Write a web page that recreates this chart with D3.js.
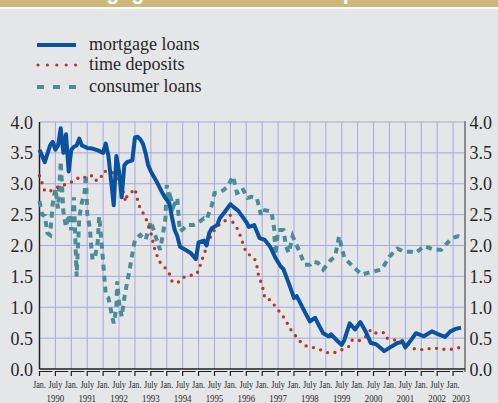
<!DOCTYPE html>
<html lang="en">
<head>
<meta charset="UTF-8">
<title>mortgage loans</title>
<script src="https://cdn.jsdelivr.net/npm/d3@7"></script>
<style>
  body { margin: 0; background: #e5e6e8; }
  svg { display: block; }
  text { font-family: "Liberation Serif", "Times New Roman", serif; fill: #2a2627; }
</style>
</head>
<body>
<script>
// months counted from Jan. 1990
const mortgage = [
  [0,3.55],[2,3.35],[4,3.62],[5,3.68],[6,3.55],[7,3.62],[8,3.9],[9,3.5],[10,3.8],[11,3.2],
  [12,3.55],[13,3.6],[14,3.62],[15,3.73],[16,3.62],[18,3.58],[20,3.57],[22,3.54],[24,3.5],
  [25,3.65],[26,3.45],[28,2.65],[29,3.45],[30,3.2],[31,2.78],[32,3.3],[33,3.35],[35,3.38],
  [36,3.75],[37,3.76],[38,3.72],[39,3.65],[40,3.5],[41,3.3],[42,3.2],[44,3.05],[46,2.88],
  [47,2.8],[49,2.68],[50,2.45],[51,2.25],[52,2.15],[53,1.98],[55,1.93],[57,1.88],[59,1.78],
  [60,2.05],[62,2.08],[63,2.0],[64,2.2],[65,2.28],[67,2.33],[68,2.44],[70,2.55],[72,2.67],
  [73,2.63],[75,2.56],[76,2.5],[78,2.38],[79,2.3],[81,2.33],[83,2.12],[85,2.09],[87,1.98],
  [89,1.8],[91,1.66],[92,1.62],[94,1.39],[96,1.15],[97,1.18],[98,1.1],[100,0.93],[102,0.77],
  [104,0.83],[105,0.74],[107,0.58],[109,0.53],[110,0.56],[112,0.47],[114,0.39],[115,0.47],
  [117,0.74],[119,0.64],[121,0.76],[123,0.61],[125,0.42],[127,0.4],[130,0.29],[133,0.37],
  [135,0.42],[137,0.44],[138,0.35],[140,0.46],[142,0.58],[145,0.53],[148,0.61],[150,0.57],
  [153,0.52],[155,0.61],[157,0.65],[159,0.67]
];
const deposits = [
  [0,3.13],[1,3.01],[2,2.88],[4,2.88],[6,2.93],[9,2.98],[11,3.0],[14,3.08],[16,3.12],[18,3.09],
  [20,3.14],[21.5,3.05],[23,3.08],[24,3.2],[26.5,3.2],[28,3.17],[29.5,3.05],[31,2.96],[32,2.8],
  [32.5,2.71],[33,2.8],[34,2.83],[36,2.92],[37.5,2.65],[39,2.53],[40.5,2.4],[41.5,2.28],
  [42.5,2.13],[43,2.0],[44,1.88],[45,1.75],[47,1.66],[49,1.54],[50,1.42],[52,1.39],[54,1.48],
  [56,1.51],[59,1.53],[60,1.59],[61,1.73],[62,1.85],[63,1.97],[64,2.1],[66,2.25],[67,2.31],
  [70,2.4],[72,2.49],[73,2.37],[75,2.25],[77,2.0],[78,1.88],[81,1.8],[82,1.67],[82.5,1.54],
  [83.5,1.41],[84.5,1.27],[85,1.14],[87,1.12],[89,1.01],[91,0.9],[93,0.79],[94,0.68],[96,0.57],
  [98,0.46],[100,0.38],[104,0.34],[106,0.31],[109,0.26],[111,0.26],[114,0.31],[117,0.37],
  [118,0.47],[121,0.46],[123,0.52],[125,0.64],[127,0.58],[130,0.59],[131,0.5],[134,0.47],
  [137,0.46],[139,0.41],[141,0.33],[145,0.31],[148,0.34],[151,0.33],[154,0.31],[157,0.33],[160,0.37]
];
const consumer = [
  [0,2.72],[1,2.5],[2,2.48],[3,2.2],[4,2.17],[5,2.68],[6,2.92],[7,2.6],[8,3.36],[9,2.55],
  [10,2.3],[11,2.5],[12,2.25],[13,2.78],[14,1.5],[15,2.45],[16,2.7],[17,2.86],[17.5,3.15],
  [18,2.52],[19,2.28],[19.5,2.0],[20,1.77],[21,1.82],[22,2.07],[22.5,2.47],[23,2.25],[24,1.74],
  [24.5,1.47],[25,1.2],[26,1.15],[27,0.94],[28,0.74],[29,0.99],[29.3,1.42],[30,1.07],[31,0.85],
  [32,1.15],[33,1.39],[34,1.61],[35,1.86],[36,2.09],[38,2.17],[40,2.09],[42,2.39],[44,2.12],
  [45.5,1.93],[46.5,2.17],[47.5,2.44],[48,2.98],[49,2.71],[49.5,2.77],[50.5,2.63],[52,2.77],
  [52.5,2.44],[53,2.23],[54.5,2.28],[55.5,2.33],[58,2.33],[59.5,2.36],[60.5,2.39],[62,2.44],
  [63,2.42],[65,2.65],[66,2.85],[68,2.86],[69.5,2.9],[71,2.96],[73,3.12],[74.5,2.85],[75.5,2.87],
  [76.5,2.93],[78.5,2.77],[80,2.79],[82,2.77],[83.5,2.5],[84,2.58],[87.5,2.55],[88.5,2.28],
  [89,1.85],[90,2.25],[92,2.25],[93,1.99],[94,1.88],[95.5,2.15],[98,1.91],[100,1.69],[102,1.69],
  [103,1.74],[105,1.72],[107,1.61],[110,1.77],[111.5,1.82],[113,2.15],[114,1.96],[115,1.8],
  [117.5,1.69],[121.5,1.53],[125,1.57],[129,1.61],[132,1.82],[135,1.95],[137.5,1.9],[140,1.9],
  [142,1.88],[145,1.99],[149,1.93],[151.5,1.93],[155.5,2.12],[158,2.15],[160,2.11]
];

const seriesNames = ['mortgage loans', 'time deposits', 'consumer loans'];
const monthLabels = ['Jan.', 'July'];
const years = d3.range(1990, 2004);
const yTicks = [0, 0.5, 1, 1.5, 2, 2.5, 3, 3.5, 4];

const width = 498, height = 403;
const plotLeft = 39.5, plotRight = 465, plotTop = 122, plotBottom = 369;

const svg = d3.select('body').append('svg')
  .attr('width', width)
  .attr('height', height);

svg.append('rect').attr('width', width).attr('height', height).attr('fill', '#e5e6e8');

// header band, title cut off at the top
svg.append('rect').attr('width', width).attr('height', 7).attr('fill', '#cbb97a');
svg.append('rect').attr('y', 7).attr('width', width).attr('height', 2).attr('fill', '#ffffff');
svg.append('text')
  .attr('x', 60).attr('y', -1.5)
  .style('font-family', '"Liberation Sans", Arial, sans-serif')
  .style('font-weight', 'bold')
  .style('font-size', '21.4px')
  .style('fill', '#ffffff')
  .text('Mortgage loans and time deposits');

const x = d3.scaleLinear().domain([0, 160.5]).range([plotLeft, plotRight]);
const y = d3.scaleLinear().domain([0, 4]).range([plotBottom, plotTop]);

const halfYears = d3.range(0, 157, 6);

// grid
const grid = svg.append('g').attr('stroke', '#a3abdb').attr('stroke-width', 1);
grid.selectAll('.gx').data(halfYears.slice(1)).enter().append('line')
  .attr('x1', d => x(d)).attr('x2', d => x(d))
  .attr('y1', plotTop).attr('y2', plotBottom);
grid.selectAll('.gy').data(yTicks.slice(1)).enter().append('line')
  .attr('x1', plotLeft).attr('x2', plotRight)
  .attr('y1', d => y(d)).attr('y2', d => y(d));

// axes lines
svg.append('line').attr('x1', plotLeft).attr('x2', plotLeft).attr('y1', plotTop).attr('y2', plotBottom)
  .attr('stroke', '#231f20').attr('stroke-width', 1.5);
svg.append('line').attr('x1', plotRight).attr('x2', plotRight).attr('y1', plotTop - 1).attr('y2', plotBottom + 3)
  .attr('stroke', '#8a8a8a').attr('stroke-width', 2);
svg.append('line').attr('x1', plotLeft).attr('x2', plotRight).attr('y1', plotBottom).attr('y2', plotBottom)
  .attr('stroke', '#231f20').attr('stroke-width', 1.3);

// bracket ticks under the axis
const ticks = svg.append('g').attr('stroke', '#231f20').attr('stroke-width', 1.2).attr('fill', 'none');
ticks.selectAll('path').data(halfYears).enter().append('path')
  .attr('d', d => {
    const x0 = x(d), x1 = Math.min(x(d + 6) - 3, plotRight - 2);
    return 'M' + x0 + ',376V371.5H' + x1;
  });

// y labels
svg.selectAll('.yl').data(yTicks).enter().append('text')
  .attr('x', 33).attr('y', d => y(d) + 6.5)
  .attr('text-anchor', 'end')
  .style('font-size', '18px')
  .text(d => d.toFixed(1));
svg.selectAll('.yr').data(yTicks).enter().append('text')
  .attr('x', 469.5).attr('y', d => y(d) + 6.5)
  .style('font-size', '18px')
  .text(d => d.toFixed(1));

// x labels, narrow serif
svg.selectAll('.xl').data(halfYears).enter().append('text')
  .attr('transform', d => 'translate(' + x(d) + ',388) scale(0.78,1)')
  .attr('text-anchor', 'middle')
  .style('font-size', '10.5px')
  .text(d => monthLabels[(d / 6) % 2]);
svg.selectAll('.yearl').data(years).enter().append('text')
  .attr('transform', d => {
    const m = (d - 1990) * 12 + 6;
    const px = d === 2003 ? 461 : x(m);
    return 'translate(' + px + ',401.5) scale(0.8,1)';
  })
  .attr('text-anchor', 'middle')
  .style('font-size', '11px')
  .text(d => d);

// lines
const line = d3.line().x(d => x(d[0])).y(d => y(d[1]));

svg.append('path').datum(consumer)
  .attr('d', line).attr('fill', 'none')
  .attr('stroke', '#4a8c98').attr('stroke-width', 4)
  .attr('stroke-dasharray', '6 5');

svg.append('path').datum(deposits)
  .attr('d', line).attr('fill', 'none')
  .attr('stroke', '#b3392f').attr('stroke-width', 3.4)
  .attr('stroke-linecap', 'round')
  .attr('stroke-dasharray', '0 7.5');

svg.append('path').datum(mortgage)
  .attr('d', line).attr('fill', 'none')
  .attr('stroke', '#0a52a0').attr('stroke-width', 4)
  .attr('stroke-linejoin', 'round');

// legend
const legendY = [45, 65, 87];
const legend = svg.append('g');
legend.append('line').attr('x1', 37).attr('x2', 76).attr('y1', legendY[0]).attr('y2', legendY[0])
  .attr('stroke', '#0a52a0').attr('stroke-width', 3.8);
legend.append('line').attr('x1', 38).attr('x2', 76).attr('y1', legendY[1]).attr('y2', legendY[1])
  .attr('stroke', '#b3392f').attr('stroke-width', 3.2).attr('stroke-linecap', 'round')
  .attr('stroke-dasharray', '0 9.4');
legend.append('line').attr('x1', 37).attr('x2', 77).attr('y1', legendY[2]).attr('y2', legendY[2])
  .attr('stroke', '#4a8c98').attr('stroke-width', 3.8).attr('stroke-dasharray', '7 9');
legend.selectAll('text').data(seriesNames).enter().append('text')
  .attr('x', 89).attr('y', (d, i) => legendY[i] + 5)
  .style('font-size', '18px')
  .text(d => d);
</script>
</body>
</html>
